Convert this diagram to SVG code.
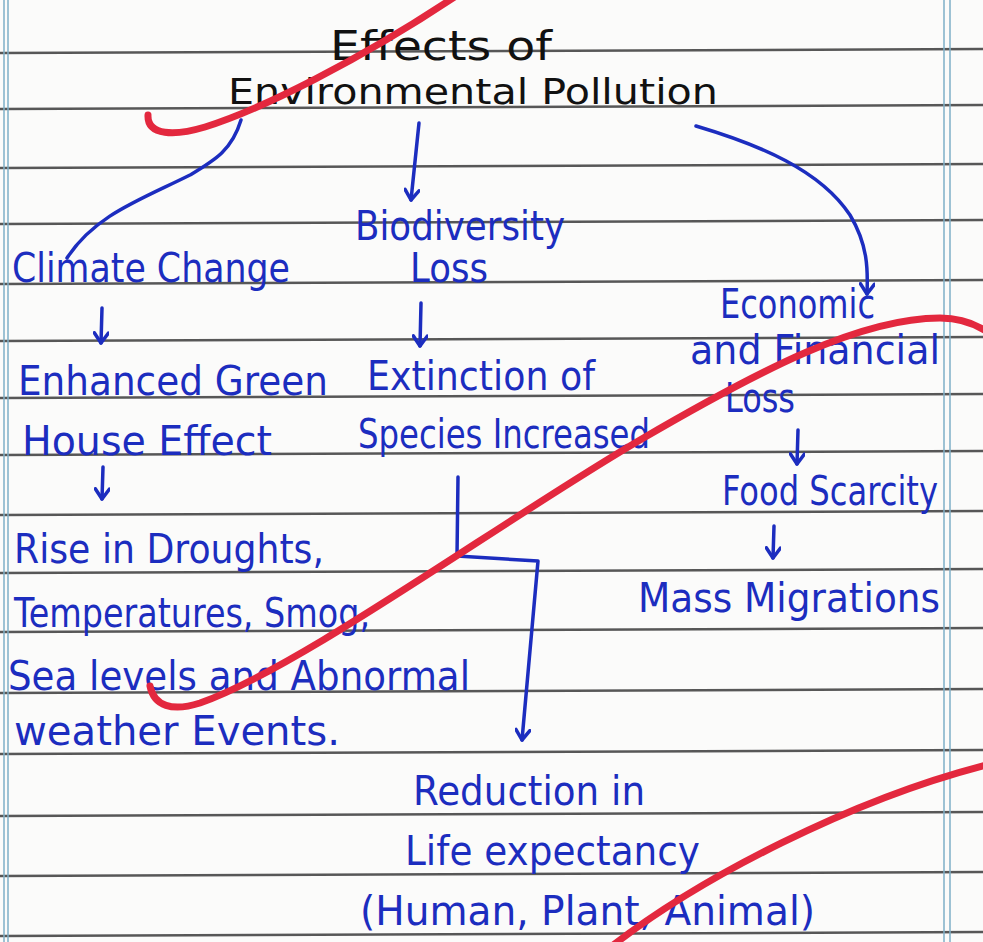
<svg xmlns="http://www.w3.org/2000/svg" width="983" height="942" viewBox="0 0 983 942">
<defs>
<style>
.rule{stroke:#3a3a3a;stroke-width:2.5;fill:none;opacity:0.85}
.margin{stroke:#7fb0c8;stroke-width:1.5;fill:none}
.t{font-family:"DejaVu Sans","Liberation Sans",sans-serif;fill:#1c2dbf;font-size:40px}
.title{font-family:"DejaVu Sans","Liberation Sans",sans-serif;fill:#111}
.c{stroke:#1c2dbf;stroke-width:3.5;fill:none;stroke-linecap:round;stroke-linejoin:round}
.red{stroke:#e3283e;stroke-width:7;fill:none;stroke-linecap:round}
</style>
<marker id="ah" viewBox="0 0 14 16" refX="12" refY="8" markerWidth="14" markerHeight="16" markerUnits="userSpaceOnUse" orient="auto">
<path d="M2,1 L12,8 L2,15" stroke="#1c2dbf" stroke-width="3.5" fill="none" stroke-linecap="round" stroke-linejoin="round"/>
</marker>
</defs>
<rect x="0" y="0" width="983" height="942" fill="#fbfbfa"/>
<g id="paper">
<path class="rule" d="M0,53 L983,49"/>
<path class="rule" d="M0,109 L983,105"/>
<path class="rule" d="M0,168 L983,164"/>
<path class="rule" d="M0,224 L983,220"/>
<path class="rule" d="M0,284 L983,280"/>
<path class="rule" d="M0,341 L983,337"/>
<path class="rule" d="M0,398 L983,394"/>
<path class="rule" d="M0,455 L983,451"/>
<path class="rule" d="M0,515 L983,511"/>
<path class="rule" d="M0,573 L983,569"/>
<path class="rule" d="M0,632 L983,628"/>
<path class="rule" d="M0,693 L983,689"/>
<path class="rule" d="M0,754 L983,750"/>
<path class="rule" d="M0,816 L983,812"/>
<path class="rule" d="M0,876 L983,872"/>
<path class="rule" d="M0,936 L983,932"/>
<path class="margin" d="M4,0 L4,942 M8,0 L8,942 M944,0 L944,942 M950,0 L950,942"/>
</g>
<g id="connectors">
<path class="c" d="M241,120 C232,150 215,160 190,175 C140,200 95,215 67,258"/>
<path class="c" d="M419,123 L411,200" marker-end="url(#ah)"/>
<path class="c" d="M696,126 C760,145 820,170 850,215 C868,245 868,270 867,294" marker-end="url(#ah)"/>
<path class="c" d="M102,308 L101,343" marker-end="url(#ah)"/>
<path class="c" d="M421,303 L420,346" marker-end="url(#ah)"/>
<path class="c" d="M103,467 L102,499" marker-end="url(#ah)"/>
<path class="c" d="M798,430 L797,464" marker-end="url(#ah)"/>
<path class="c" d="M774,526 L773,558" marker-end="url(#ah)"/>
<path class="c" d="M458,477 L457,556 L538,561 L522,740" marker-end="url(#ah)"/>
</g>
<g id="title">
<text class="title" x="330" y="60" font-size="40" textLength="222" lengthAdjust="spacingAndGlyphs">Effects of</text>
<text class="title" x="228" y="104" font-size="36" textLength="490" lengthAdjust="spacingAndGlyphs">Environmental Pollution</text>
</g>
<g id="climate-change"><text class="t" x="12" y="282" textLength="278" lengthAdjust="spacingAndGlyphs">Climate Change</text></g>
<g id="biodiversity-loss"><text class="t" x="355" y="240" font-size="34" textLength="210" lengthAdjust="spacingAndGlyphs">Biodiversity</text><text class="t" x="410" y="282" font-size="32" textLength="78" lengthAdjust="spacingAndGlyphs">Loss</text></g>
<g id="economic-loss"><text class="t" x="720" y="318" font-size="30" textLength="155" lengthAdjust="spacingAndGlyphs">Economic</text><text class="t" x="690" y="364" font-size="31" textLength="250" lengthAdjust="spacingAndGlyphs">and Financial</text><text class="t" x="725" y="412" font-size="26" textLength="70" lengthAdjust="spacingAndGlyphs">Loss</text></g>
<g id="greenhouse"><text class="t" x="18" y="395" textLength="310" lengthAdjust="spacingAndGlyphs">Enhanced Green</text><text class="t" x="22" y="455" textLength="250" lengthAdjust="spacingAndGlyphs">House Effect</text></g>
<g id="extinction"><text class="t" x="367" y="390" textLength="228" lengthAdjust="spacingAndGlyphs">Extinction of</text><text class="t" x="358" y="448" textLength="292" lengthAdjust="spacingAndGlyphs">Species Increased</text></g>
<g id="food-scarcity"><text class="t" x="722" y="505" font-size="36" textLength="216" lengthAdjust="spacingAndGlyphs">Food Scarcity</text></g>
<g id="mass-migrations"><text class="t" x="638" y="612" textLength="302" lengthAdjust="spacingAndGlyphs">Mass Migrations</text></g>
<g id="rise"><text class="t" x="14" y="563" textLength="310" lengthAdjust="spacingAndGlyphs">Rise in Droughts,</text><text class="t" x="14" y="627" textLength="356" lengthAdjust="spacingAndGlyphs">Temperatures, Smog,</text><text class="t" x="8" y="690" textLength="462" lengthAdjust="spacingAndGlyphs">Sea levels and Abnormal</text><text class="t" x="14" y="745" textLength="326" lengthAdjust="spacingAndGlyphs">weather Events.</text></g>
<g id="life-expectancy"><text class="t" x="413" y="805" textLength="232" lengthAdjust="spacingAndGlyphs">Reduction in</text><text class="t" x="405" y="865" textLength="295" lengthAdjust="spacingAndGlyphs">Life expectancy</text><text class="t" x="360" y="925" textLength="455" lengthAdjust="spacingAndGlyphs">(Human, Plant, Animal)</text></g>
<g id="red-marks">
<path class="red" d="M148,115 C147,136 175,136 205,127 C260,110 360,60 456,-4"/>
<path class="red" d="M150,686 C154,706 172,712 200,703 C300,668 500,522 640,440 C760,370 860,318 940,318 C958,318 972,322 986,331"/>
<path class="red" d="M612,946 C700,878 850,800 986,765"/>
</g>
</svg>
